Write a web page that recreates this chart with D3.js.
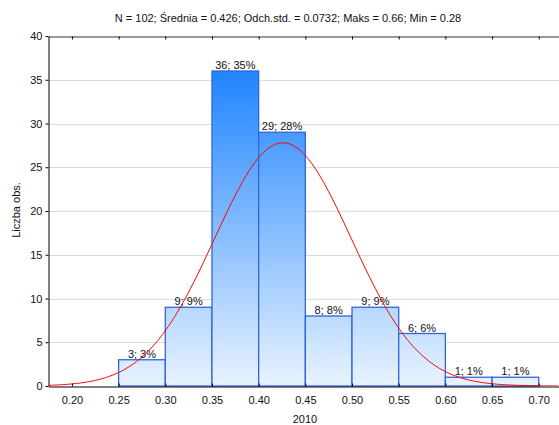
<!DOCTYPE html>
<html>

<head>
    <meta charset="utf-8" />
    <title>Histogram 2010</title>
    <script src="https://d3js.org/d3.v7.min.js"></script>
    <style>
        body { margin: 0; background: #fff; }
        text { font-family: "Liberation Sans", Arial, sans-serif; fill: #111; }
    </style>
</head>

<body>
    <svg width="559" height="425"></svg>
    <script>
        // data
        const binEdges = [0.25, 0.30, 0.35, 0.40, 0.45, 0.50, 0.55, 0.60, 0.65, 0.70];
        const counts = [3, 9, 36, 29, 8, 9, 6, 1, 1];
        const percents = [3, 9, 35, 28, 8, 9, 6, 1, 1];
        const xTicks = [0.20, 0.25, 0.30, 0.35, 0.40, 0.45, 0.50, 0.55, 0.60, 0.65, 0.70];
        const yTicks = [0, 5, 10, 15, 20, 25, 30, 35, 40];
        const nObs = 102, mean = 0.426, sd = 0.0732, maks = 0.66, min = 0.28;

        const svg = d3.select("svg");
        const width = +svg.attr("width");
        const height = +svg.attr("height");
        const margin = { top: 36, bottom: 39, left: 48.5, right: 0 };

        const x = d3.scaleLinear()
            .domain([0.1749, 0.7217])
            .range([margin.left, width - margin.right]);
        const y = d3.scaleLinear()
            .domain([0, 40])
            .range([height - margin.bottom, margin.top]);

        const defs = svg.append("defs");
        const grad = defs.append("linearGradient")
            .attr("id", "barGrad")
            .attr("gradientUnits", "userSpaceOnUse")
            .attr("x1", 0).attr("x2", 0)
            .attr("y1", y(40)).attr("y2", y(0));
        grad.append("stop").attr("offset", "0%").attr("stop-color", "#0a78ff");
        grad.append("stop").attr("offset", "100%").attr("stop-color", "#e8f3ff");

        defs.append("clipPath").attr("id", "plotClip")
            .append("rect")
            .attr("x", margin.left).attr("y", margin.top)
            .attr("width", width - margin.left).attr("height", y(0) - margin.top);

        // gridlines
        svg.append("g")
            .selectAll("line")
            .data(yTicks.filter(d => d > 0 && d < 40))
            .enter()
            .append("line")
            .attr("x1", margin.left)
            .attr("x2", width)
            .attr("y1", d => Math.round(y(d)) + 0.5)
            .attr("y2", d => Math.round(y(d)) + 0.5)
            .attr("stroke", "#dcdcdc");

        // bars
        const bins = counts.map((c, i) => ({ x0: binEdges[i], x1: binEdges[i + 1], n: c, p: percents[i] }));
        svg.append("g")
            .selectAll("rect")
            .data(bins)
            .enter()
            .append("rect")
            .attr("x", d => x(d.x0))
            .attr("y", d => y(d.n))
            .attr("width", d => x(d.x1) - x(d.x0))
            .attr("height", d => y(0) - y(d.n))
            .attr("fill", "url(#barGrad)")
            .attr("stroke", "#2f66dc")
            .attr("stroke-width", 1.3);

        svg.append("g")
            .selectAll("text")
            .data(bins)
            .enter()
            .append("text")
            .attr("x", d => (x(d.x0) + x(d.x1)) / 2)
            .attr("y", d => y(d.n) - 2)
            .attr("text-anchor", "middle")
            .attr("font-size", 11)
            .text(d => d.n + "; " + d.p + "%");

        // fitted normal curve
        const binW = 0.05;
        const normal = v => nObs * binW / (sd * Math.sqrt(2 * Math.PI)) *
            Math.exp(-0.5 * Math.pow((v - mean) / sd, 2));
        const curveX = d3.range(0.175, 0.722, 0.002);
        svg.append("path")
            .datum(curveX)
            .attr("clip-path", "url(#plotClip)")
            .attr("fill", "none")
            .attr("stroke", "#ff0000")
            .attr("stroke-width", 1)
            .attr("d", d3.line().x(d => x(d)).y(d => y(normal(d))));

        // axes
        const fmt = d3.format(".2f");
        svg.append("g")
            .attr("transform", "translate(0," + (Math.round(y(0)) + 0.5) + ")")
            .call(d3.axisBottom(x).tickValues(xTicks).tickSizeInner(-3).tickSizeOuter(0).tickPadding(10).tickFormat(fmt))
            .call(g => g.select(".domain").attr("stroke", "#000"))
            .call(g => g.selectAll("text").attr("font-size", 11).attr("font-family", "Liberation Sans, Arial, sans-serif").attr("fill", "#111"));

        svg.append("g")
            .attr("transform", "translate(0," + (margin.top + 0.5) + ")")
            .call(d3.axisTop(x).tickValues(xTicks).tickSizeInner(-3).tickSizeOuter(0).tickFormat(""))
            .call(g => g.select(".domain").attr("stroke", "#333"));

        svg.append("g")
            .attr("transform", "translate(" + margin.left + ",0)")
            .call(d3.axisLeft(y).tickValues(yTicks).tickSizeInner(3).tickSizeOuter(0).tickPadding(3))
            .call(g => g.select(".domain").attr("stroke", "#000"))
            .call(g => g.selectAll("text").attr("font-size", 11).attr("font-family", "Liberation Sans, Arial, sans-serif").attr("fill", "#111"));

        // titles
        svg.append("text")
            .attr("x", 288)
            .attr("y", 22)
            .attr("text-anchor", "middle")
            .attr("font-size", 11)
            .text("N = " + nObs + "; Średnia = " + mean + "; Odch.std. = " + sd + "; Maks = " + maks + "; Min = " + min);

        svg.append("text")
            .attr("x", 305)
            .attr("y", 423)
            .attr("text-anchor", "middle")
            .attr("font-size", 11)
            .text("2010");

        svg.append("text")
            .attr("transform", "translate(20,210) rotate(-90)")
            .attr("text-anchor", "middle")
            .attr("font-size", 11)
            .text("Liczba obs.");
    </script>
</body>

</html>
